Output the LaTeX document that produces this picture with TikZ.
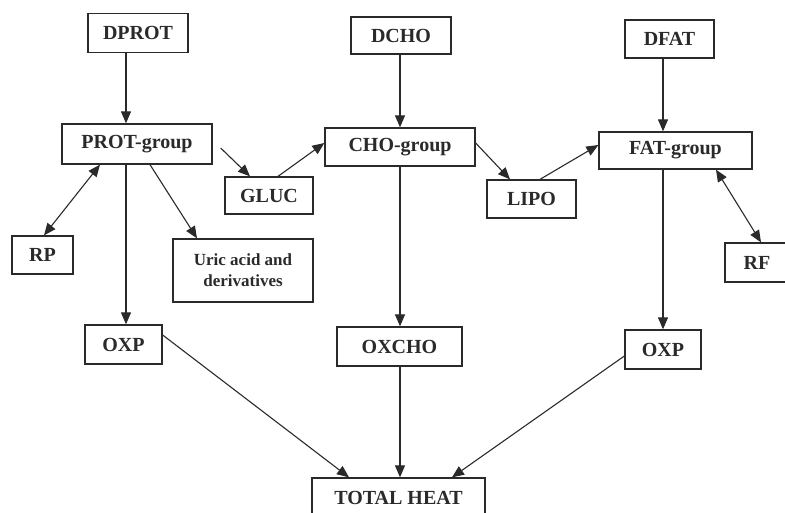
\documentclass[tikz,border=0pt]{standalone}
\usepackage{fontspec}
\setmainfont{Liberation Serif}
\usetikzlibrary{arrows.meta}
\definecolor{ink}{HTML}{2A2A2A}
\begin{document}
\begin{tikzpicture}[x=1pt,y=-1pt,
  box/.style={draw=ink,line width=1.3pt,rectangle,inner sep=0pt,
    font=\fontsize{20}{22}\selectfont\bfseries,text=ink},
  conn/.style={draw=ink,line width=1.1pt,-{Triangle[length=12pt,width=10pt]}},
  dconn/.style={draw=ink,line width=1.1pt,{Triangle[length=12pt,width=10pt]}-{Triangle[length=12pt,width=10pt]}}]
\path[use as bounding box] (0,0) rectangle (785,513);
\clip (0,0) rectangle (785,513);
\node[box,minimum width=100pt,minimum height=39pt] (dprot) at (138,33) {DPROT};
\node[box,minimum width=150pt,minimum height=40pt] (prot) at (137,144) {PROT-group};
\node[box,minimum width=88pt,minimum height=37pt] (gluc) at (269,195.5) {GLUC};
\node[box,minimum width=61pt,minimum height=38pt] (rp) at (42.5,255) {RP};
\node[box,minimum width=140pt,minimum height=63pt,align=center,
  font=\fontsize{17}{21}\selectfont\bfseries] (uric) at (243,270.5) {Uric acid and\\derivatives};
\node[box,minimum width=77pt,minimum height=39pt] (oxpl) at (123.5,344.5) {OXP};
\node[box,minimum width=100pt,minimum height=37pt] (dcho) at (401,35.5) {DCHO};
\node[box,minimum width=150pt,minimum height=38pt] (cho) at (400,147) {CHO-group};
\node[box,minimum width=125pt,minimum height=39pt] (oxcho) at (399.5,346.5) {OXCHO};
\node[box,minimum width=173pt,minimum height=40pt] (total) at (398.5,498) {TOTAL HEAT};
\node[box,minimum width=89pt,minimum height=38pt] (lipo) at (531.5,199) {LIPO};
\node[box,minimum width=89pt,minimum height=38pt] (dfat) at (669.5,39) {DFAT};
\node[box,minimum width=153pt,minimum height=37pt] (fat) at (675.5,150.5) {FAT-group};
\node[box,minimum width=64pt,minimum height=39pt] (rf) at (757,262.5) {RF};
\node[box,minimum width=76pt,minimum height=39pt] (oxpr) at (663,349.5) {OXP};

\draw[conn] (dprot.south -| 126,0) -- (prot.north -| 126,0);
\draw[conn] (prot.south -| 126,0) -- (oxpl.north -| 126,0);
\draw[dconn] (prot.south -| 100,0) -- (rp.north -| 44,0);
\draw[conn] (prot.south -| 150,0) -- (uric.north -| 197,0);
\draw[conn] (prot.east) ++(8,4) coordinate (pg) (pg) -- (gluc.north -| 250,0);
\draw[conn] (gluc.north -| 278,0) -- (cho.west |- 0,143);
\draw[conn] (dcho.south -| 400,0) -- (cho.north -| 400,0);
\draw[conn] (cho.south -| 400,0) -- (oxcho.north -| 400,0);
\draw[conn] (oxcho.south -| 400,0) -- (total.north -| 400,0);
\draw[conn] (cho.east |- 0,143) -- (lipo.north -| 510,0);
\draw[conn] (lipo.north -| 540,0) -- (fat.west |- 0,145);
\draw[conn] (dfat.south -| 663,0) -- (fat.north -| 663,0);
\draw[conn] (fat.south -| 663,0) -- (oxpr.north -| 663,0);
\draw[dconn] (fat.south -| 716,0) -- (rf.north -| 761,0);
\draw[conn] (oxpl.east |- 0,335) -- (total.north -| 349,0);
\draw[conn] (oxpr.west |- 0,356) -- (total.north -| 452,0);
\end{tikzpicture}
\end{document}
